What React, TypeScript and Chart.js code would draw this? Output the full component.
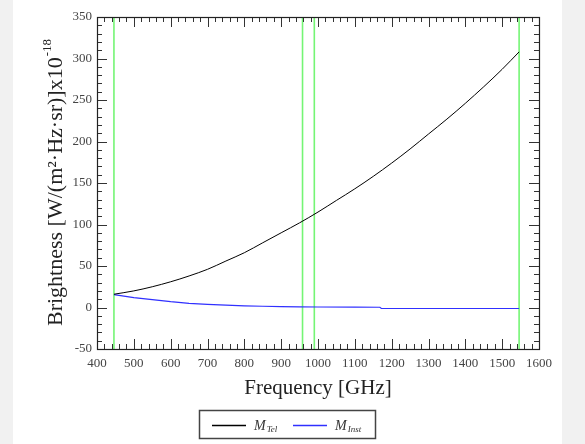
import React, { useEffect, useRef } from "react";
import { Chart, registerables } from "chart.js";

Chart.register(...registerables);

// Telescope brightness M_Tel
const freqTel = [446, 500, 550, 600, 650, 700, 750, 800, 850, 900, 950, 1000, 1050, 1100, 1150, 1200, 1250, 1300, 1350, 1400, 1450, 1500, 1546];
const valTel = [16, 20, 25, 31, 38, 46, 56, 66, 78, 90, 102, 115, 129, 143, 158, 174, 191, 209, 227, 246, 266, 287, 308];

// Instrument brightness M_Inst
const freqInst = [446, 500, 550, 600, 650, 700, 750, 800, 850, 900, 950, 1000, 1100, 1168, 1172, 1300, 1400, 1546];
const valInst = [15.5, 12, 9.5, 7, 5, 3.8, 2.8, 2, 1.5, 1.1, 0.8, 0.6, 0.4, 0.3, -1.2, -1.2, -1.2, -1.2];

// Vertical green markers
const greenLines = [446, 958, 990, 1546];

const X_MIN = 400, X_MAX = 1600, X_MAJOR = 100, X_MINOR = 20;
const Y_MIN = -50, Y_MAX = 350, Y_MAJOR = 50, Y_MINOR = 10;

const xTitle = "Frequency [GHz]";
const yTitle = "Brightness [W/(m\u00B2\u00B7Hz\u00B7sr)]x10";
const yTitleSup = "-18";
const legendItems = [
  { main: "M", sub: "Tel", color: "#000000" },
  { main: "M", sub: "Inst", color: "#3030ff" },
];

const SERIF = '"Liberation Serif", "Times New Roman", serif';

const framePlugin = {
  id: "framePlugin",
  afterDatasetsDraw(chart: any) {
    const { ctx, chartArea, scales } = chart;
    const { left, right, top, bottom } = chartArea;
    const x = scales.x, y = scales.y;
    ctx.save();
    ctx.strokeStyle = "#333";
    ctx.lineWidth = 1;
    const line = (x1: number, y1: number, x2: number, y2: number) => {
      ctx.beginPath();
      ctx.moveTo(x1, y1);
      ctx.lineTo(x2, y2);
      ctx.stroke();
    };
    for (let v = X_MIN; v <= X_MAX; v += X_MINOR) {
      const px = Math.round(x.getPixelForValue(v)) + 0.5;
      const len = v % X_MAJOR === 0 ? 10 : 5;
      line(px, bottom, px, bottom - len);
      line(px, top, px, top + len);
    }
    for (let v = Y_MIN; v <= Y_MAX; v += Y_MINOR) {
      const py = Math.round(y.getPixelForValue(v)) + 0.5;
      const len = v % Y_MAJOR === 0 ? 10 : 5;
      line(left, py, left + len, py);
      line(right, py, right - len, py);
    }
    ctx.strokeStyle = "#222";
    ctx.lineWidth = 1.2;
    ctx.strokeRect(Math.round(left) + 0.5, Math.round(top) + 0.5, Math.round(right - left), Math.round(bottom - top));

    // Axis titles
    ctx.fillStyle = "#222";
    ctx.font = `21px ${SERIF}`;
    ctx.textAlign = "center";
    ctx.textBaseline = "alphabetic";
    ctx.fillText(xTitle, (left + right) / 2, 394);

    ctx.save();
    ctx.translate(62, (top + bottom) / 2);
    ctx.rotate(-Math.PI / 2);
    ctx.font = `22px ${SERIF}`;
    const mw = ctx.measureText(yTitle).width;
    ctx.font = `13px ${SERIF}`;
    const sw = ctx.measureText(yTitleSup).width;
    const start = -(mw + sw) / 2;
    ctx.textAlign = "left";
    ctx.font = `22px ${SERIF}`;
    ctx.fillText(yTitle, start, 0);
    ctx.font = `13px ${SERIF}`;
    ctx.fillText(yTitleSup, start + mw + 1, -11);
    ctx.restore();

    // Legend
    ctx.strokeStyle = "#444";
    ctx.lineWidth = 1.5;
    ctx.strokeRect(199.5, 410.5, 176, 28);
    const itemX = [212, 293];
    legendItems.forEach((it, i) => {
      const x0 = itemX[i];
      ctx.strokeStyle = it.color;
      ctx.lineWidth = 1.5;
      line(x0, 425.5, x0 + 34, 425.5);
      ctx.fillStyle = "#333";
      ctx.textAlign = "left";
      ctx.font = `italic 14px ${SERIF}`;
      ctx.fillText(it.main, x0 + 42, 429.5);
      const w = ctx.measureText(it.main).width;
      ctx.font = `italic 9px ${SERIF}`;
      ctx.fillText(it.sub, x0 + 42 + w + 1, 432);
    });
    ctx.restore();
  },
};

export default function App() {
  const ref = useRef<HTMLCanvasElement | null>(null);
  useEffect(() => {
    if (!ref.current) return;
    const datasets: any[] = [
      {
        label: "M_Tel",
        data: freqTel.map((f, i) => ({ x: f, y: valTel[i] })),
        borderColor: "#000000",
        borderWidth: 1,
        pointRadius: 0,
        cubicInterpolationMode: "monotone",
      },
      {
        label: "M_Inst",
        data: freqInst.map((f, i) => ({ x: f, y: valInst[i] })),
        borderColor: "#3030ff",
        borderWidth: 1.2,
        pointRadius: 0,
      },
      ...greenLines.map((g) => ({
        label: "band " + g,
        data: [
          { x: g, y: Y_MIN },
          { x: g, y: Y_MAX },
        ],
        borderColor: "#74f574",
        borderWidth: 1.6,
        pointRadius: 0,
      })),
    ];
    const chart = new Chart(ref.current, {
      type: "line",
      data: { datasets },
      plugins: [framePlugin],
      options: {
        animation: false,
        responsive: false,
        devicePixelRatio: 1,
        layout: { padding: { left: 0, top: 17, right: 46, bottom: 0 } },
        plugins: { legend: { display: false }, tooltip: { enabled: false } },
        scales: {
          x: {
            type: "linear",
            min: X_MIN,
            max: X_MAX,
            grid: { display: false, drawTicks: false },
            border: { display: false },
            ticks: {
              stepSize: X_MAJOR,
              padding: 7,
              color: "#444",
              font: { family: SERIF, size: 13 },
              maxRotation: 0,
              callback: (v: any) => String(v),
            },
            afterFit: (s: any) => {
              s.height = 95;
            },
          },
          y: {
            type: "linear",
            min: Y_MIN,
            max: Y_MAX,
            grid: { display: false, drawTicks: false },
            border: { display: false },
            ticks: {
              stepSize: Y_MAJOR,
              padding: 5,
              color: "#444",
              font: { family: SERIF, size: 13 },
              callback: (v: any) => String(v),
            },
            afterFit: (s: any) => {
              s.width = 97;
            },
          },
        },
      } as any,
    });
    return () => chart.destroy();
  }, []);
  return (
    <div style={{ position: "fixed", left: 0, top: 0, width: 585, height: 444, background: "#f1f1f1" }}>
      <div style={{ position: "absolute", left: 13, top: 0, width: 549, height: 444, background: "#ffffff" }} />
      <canvas ref={ref} width={585} height={444} style={{ position: "absolute", left: 0, top: 0 }} />
    </div>
  );
}
